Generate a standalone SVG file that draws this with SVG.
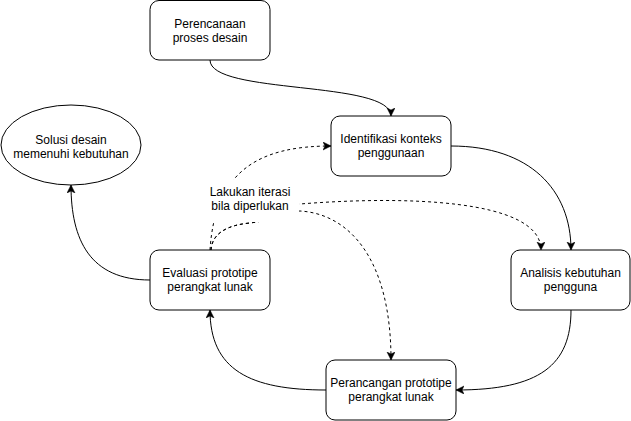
<svg xmlns="http://www.w3.org/2000/svg" width="631" height="421" viewBox="0 0 631 421">
<defs>
<style>
.box{fill:#fff;stroke:#000;stroke-width:1}
.t{font-family:"Liberation Sans",Arial,sans-serif;font-size:12px;fill:#000;text-anchor:middle}
.e{fill:none;stroke:#000;stroke-width:1}
.d{stroke-dasharray:3 3}
</style>
<marker id="arr" markerUnits="userSpaceOnUse" markerWidth="10" markerHeight="10" refX="8" refY="4" orient="auto">
<path d="M0,0 L8,4 L0,8 L2,4 Z" fill="#000" stroke="#000" stroke-width="0.5"/>
</marker>
</defs>
<rect width="631" height="421" fill="#fff"/>
<g id="connectors">
<path class="e" d="M210,60 C210,95 391,80 391,116" marker-end="url(#arr)"/>
<path class="e" d="M451,146 C530,146 571,190 571,250" marker-end="url(#arr)"/>
<path class="e" d="M571,310 C571,365 540,390 456,390" marker-end="url(#arr)"/>
<path class="e" d="M326,390 C250,390 210,370 210,310" marker-end="url(#arr)"/>
<path class="e" d="M150,280 C90,280 71,240 71,185" marker-end="url(#arr)"/>
<path class="e d" d="M210,250 C215,170 260,146 331,146" marker-end="url(#arr)"/>
<path class="e d" d="M211,250 C212,233 228,225 250,223 C275,220 285,205 300,204 C400,196 541,198 541,250" marker-end="url(#arr)"/>
<path class="e d" d="M211,250 C212,233 228,225 250,223 C275,220 285,212 300,211 C350,214 391,260 391,360" marker-end="url(#arr)"/>
</g>
<g id="label-iterasi">
<rect x="205" y="180" width="94" height="42" fill="#fff"/>
<text class="t" x="250" y="196">Lakukan iterasi</text>
<text class="t" x="250" y="210">bila diperlukan</text>
</g>
<g id="perencanaan">
<rect class="box" x="150" y="0.5" width="120" height="59.5" rx="9"/>
<text class="t" x="210" y="27.5">Perencanaan</text>
<text class="t" x="210" y="41.5">proses desain</text>
</g>
<g id="identifikasi">
<rect class="box" x="331" y="116" width="120" height="60" rx="9"/>
<text class="t" x="391" y="142.5">Identifikasi konteks</text>
<text class="t" x="391" y="156.5">penggunaan</text>
</g>
<g id="analisis">
<rect class="box" x="511" y="250" width="119" height="60" rx="9"/>
<text class="t" x="570.5" y="276.5">Analisis kebutuhan</text>
<text class="t" x="570.5" y="290.5">pengguna</text>
</g>
<g id="perancangan">
<rect class="box" x="326" y="360" width="130" height="60" rx="9"/>
<text class="t" x="391" y="386.5">Perancangan prototipe</text>
<text class="t" x="391" y="400.5">perangkat lunak</text>
</g>
<g id="evaluasi">
<rect class="box" x="150" y="250" width="120" height="60" rx="9"/>
<text class="t" x="210" y="276.5">Evaluasi prototipe</text>
<text class="t" x="210" y="290.5">perangkat lunak</text>
</g>
<g id="solusi">
<ellipse class="box" cx="71" cy="145" rx="70" ry="40"/>
<text class="t" x="71" y="144">Solusi desain</text>
<text class="t" x="71" y="158">memenuhi kebutuhan</text>
</g>
</svg>
